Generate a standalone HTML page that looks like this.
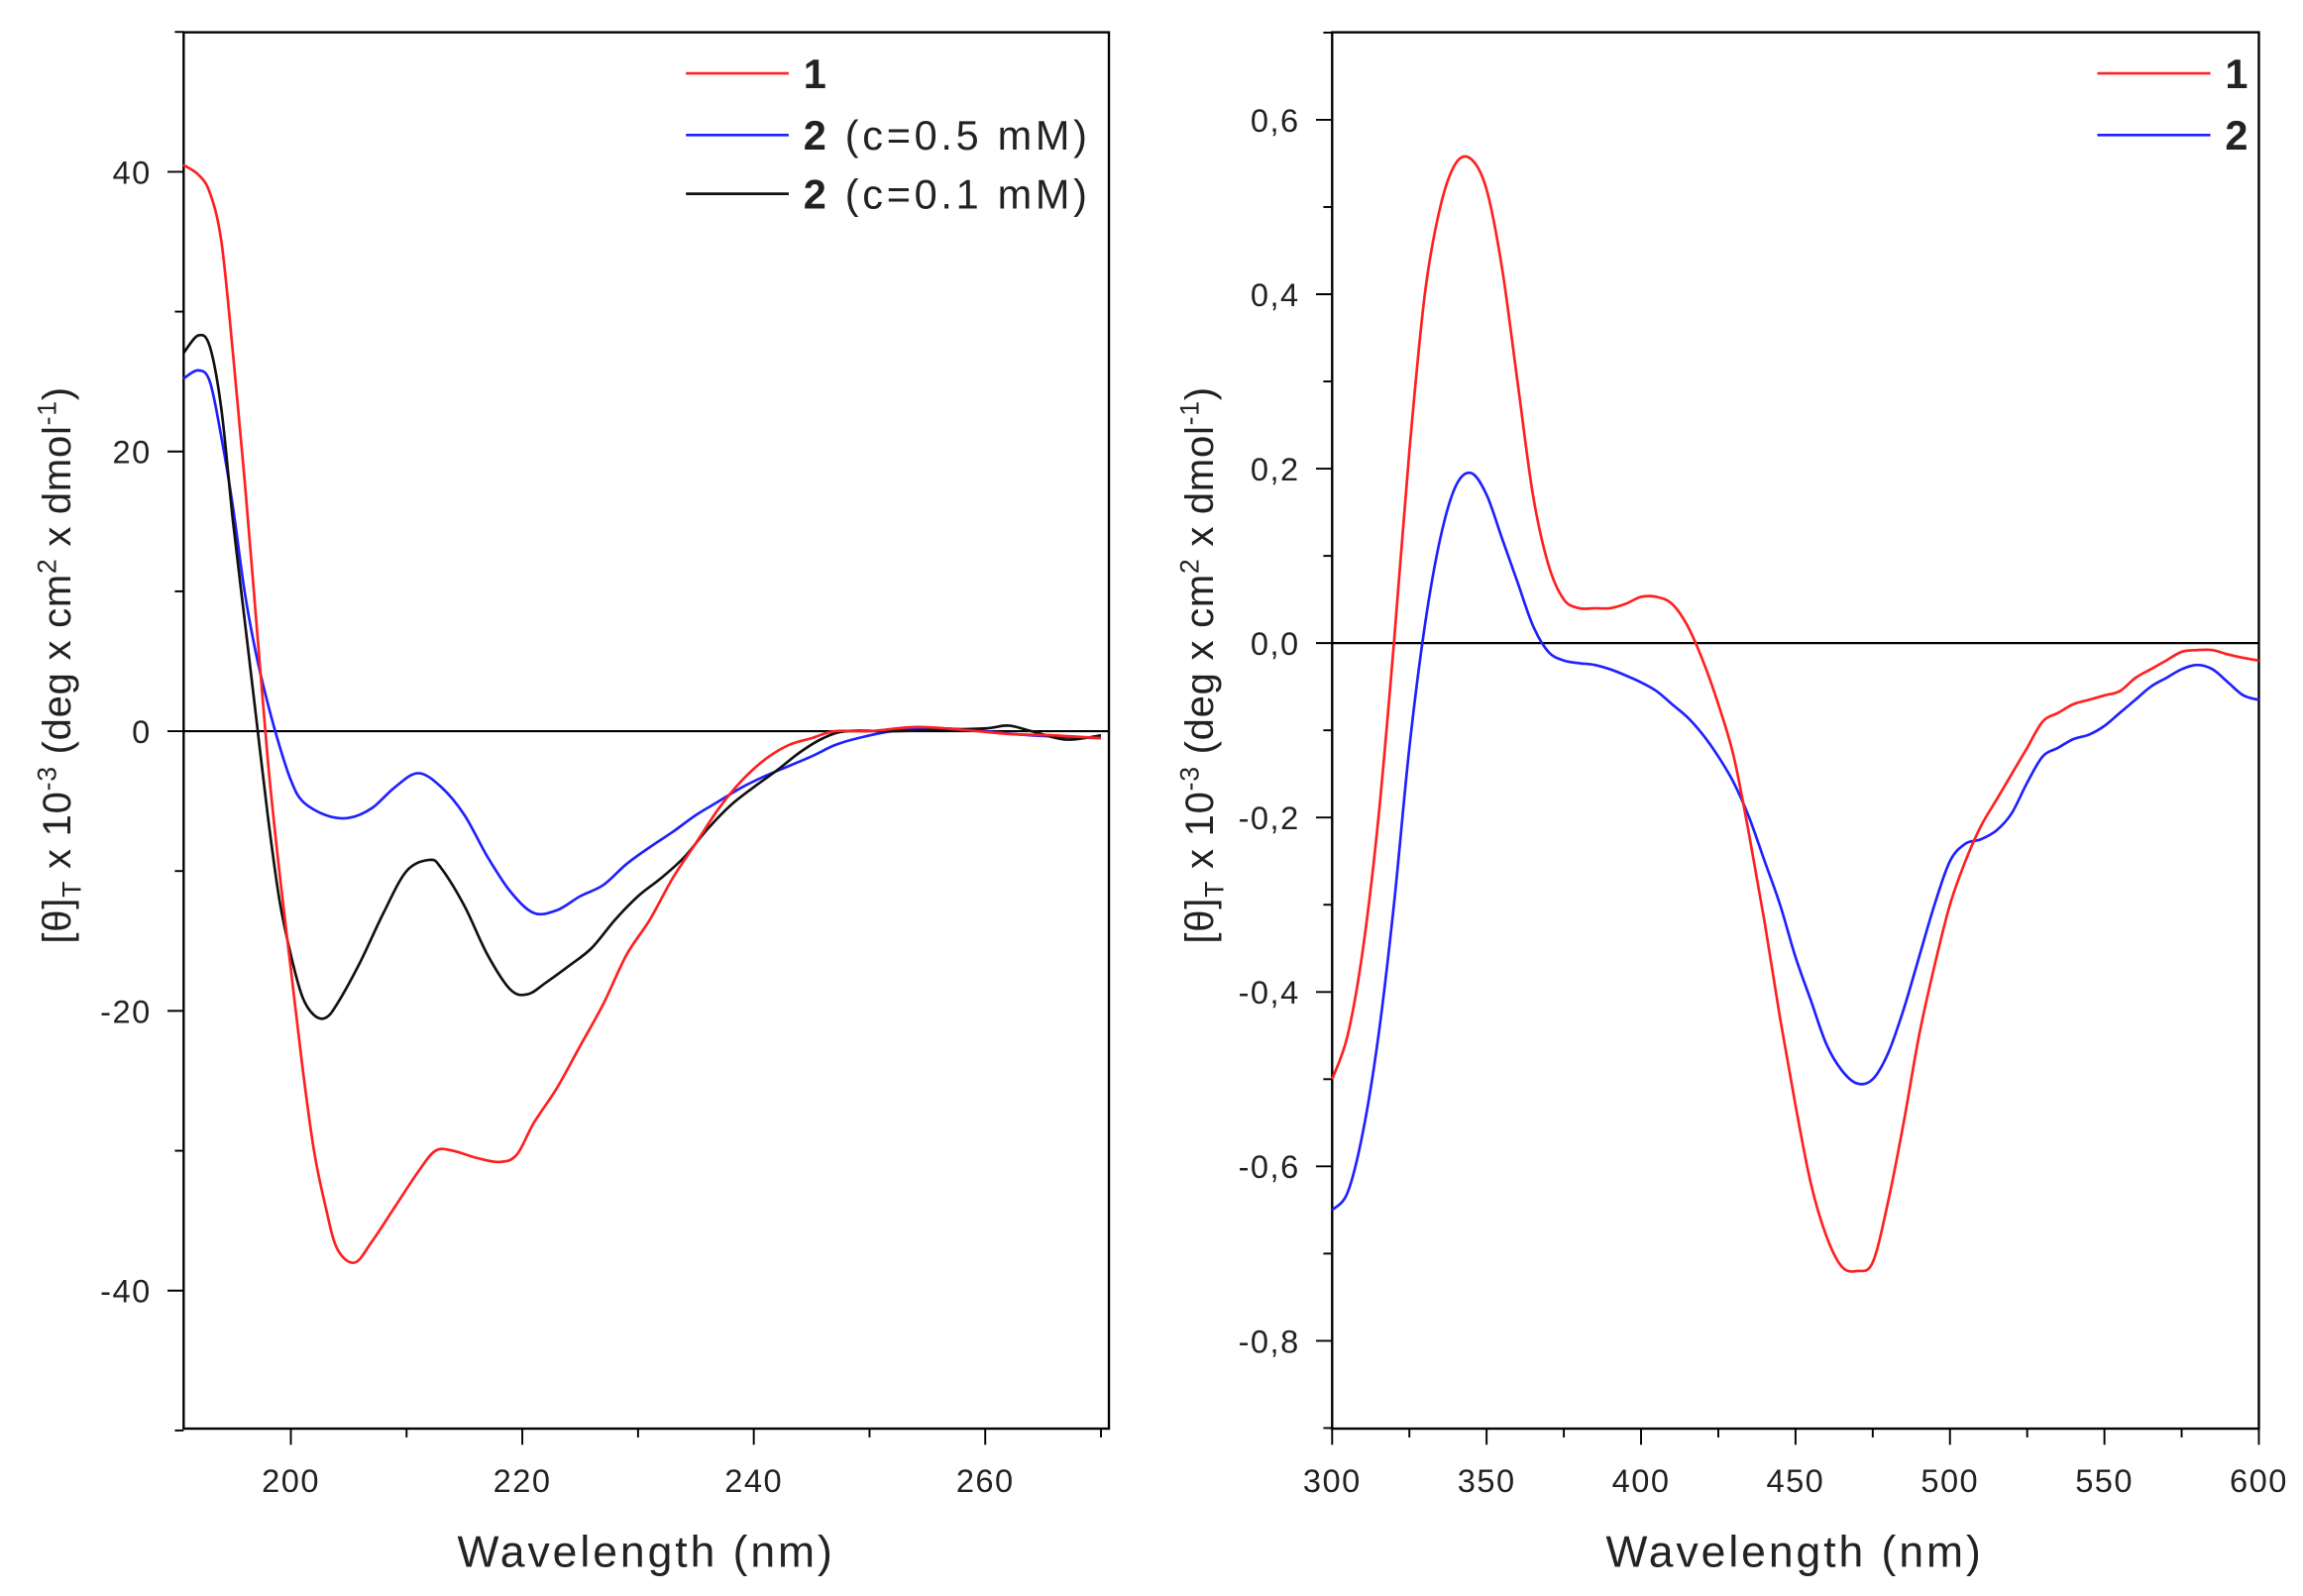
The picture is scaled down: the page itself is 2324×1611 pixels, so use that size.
<!DOCTYPE html>
<html><head><meta charset="utf-8"><style>
html,body{margin:0;padding:0;background:#fff}
svg{display:block}
text{font-family:"Liberation Sans",sans-serif;fill:#222}
</style></head><body>
<svg id="s" width="2324" height="1611" viewBox="0 0 1568 1087" xmlns="http://www.w3.org/2000/svg"></svg>
<script>
// Left panel data
const leftRedX=[190.7,192,193,194,195,196,197,198,199,200,201,202,203,204,205.5,207,209,211,212.5,214,216,218,219.5,221,223,225,227,229,231,233,235,237,239,241,243,245,247,250,254,258,262,266,270];
const leftRedY=[40.5,39.8,38.5,35,27,18,8,-2,-10,-17,-24,-30,-34,-37,-38,-36.5,-34,-31.5,-30,-30,-30.5,-30.8,-30.3,-28,-25.5,-22.5,-19.5,-16,-13.5,-10.5,-8,-5.5,-3.5,-2,-1,-0.5,0,0,0.3,0.1,-0.2,-0.3,-0.5];
const leftBlueX=[190.7,192,193,194,195,196,197,198,199,200,201,203,205,207,209,211,213,215,217,219,221,223,225,227,229,231,233,235,237,239,241,243,245,247,249,252,256,260,264,270];
const leftBlueY=[25.2,25.8,25,21,16,10,5.5,2,-1,-3.5,-5,-6,-6.2,-5.5,-4,-3,-4,-6,-9,-11.5,-13,-12.8,-11.8,-11,-9.5,-8.3,-7.2,-6,-5,-4,-3.2,-2.5,-1.8,-1,-0.5,0,0.2,0,-0.3,-0.5];
const leftBlackX=[190.7,192,193,194,195,196,197,198,199,200,201,202,203,204,206,208,210,212,213,215,217,219,220.5,222,224,226,228,230,232,234,236,238,240,242,244,246,248,252,256,260,262,264,267,270];
const leftBlackY=[27,28.3,27.5,23,15,8,1,-6,-12,-16,-19,-20.3,-20.5,-19.5,-16.5,-13,-10,-9.2,-9.8,-12.5,-16,-18.5,-18.8,-18,-16.8,-15.5,-13.5,-11.8,-10.5,-9,-7,-5.3,-4,-2.8,-1.5,-0.5,0,0,0.1,0.2,0.4,0,-0.6,-0.3];
const leftXTicks=[200,220,240,260];
const leftYTicks=[40,20,0,-20,-40];
// Right panel data
const rightX=[300,305,310,315,320,325,330,335,340,345,350,355,360,365,370,375,380,385,390,395,400,405,410,415,420,425,430,435,440,445,450,455,460,465,470,475,480,485,490,495,500,505,510,515,520,525,530,535,540,545,550,555,560,565,570,575,580,585,590,595,600];
const rightRedY=[-0.5,-0.45,-0.35,-0.2,0,0.22,0.4,0.5,0.55,0.555,0.52,0.43,0.3,0.17,0.09,0.05,0.04,0.04,0.04,0.045,0.053,0.053,0.045,0.02,-0.02,-0.07,-0.13,-0.22,-0.32,-0.43,-0.53,-0.62,-0.68,-0.715,-0.72,-0.71,-0.64,-0.55,-0.45,-0.37,-0.3,-0.25,-0.21,-0.18,-0.15,-0.12,-0.09,-0.08,-0.07,-0.065,-0.06,-0.055,-0.04,-0.03,-0.02,-0.01,-0.008,-0.008,-0.013,-0.017,-0.02];
const rightBlueY=[-0.65,-0.63,-0.56,-0.45,-0.3,-0.12,0.02,0.12,0.18,0.195,0.17,0.12,0.07,0.02,-0.01,-0.02,-0.023,-0.025,-0.03,-0.037,-0.045,-0.055,-0.07,-0.085,-0.105,-0.13,-0.16,-0.2,-0.25,-0.3,-0.36,-0.41,-0.46,-0.49,-0.505,-0.5,-0.47,-0.42,-0.36,-0.3,-0.25,-0.23,-0.225,-0.215,-0.195,-0.16,-0.13,-0.12,-0.11,-0.105,-0.095,-0.08,-0.065,-0.05,-0.04,-0.03,-0.025,-0.03,-0.045,-0.06,-0.065];
const rightXTicks=[300,350,400,450,500,550,600];
const rightYTicks=[0.6,0.4,0.2,0,-0.2,-0.4,-0.6,-0.8];

const NS="http://www.w3.org/2000/svg", S=document.getElementById('s');
function mk(tag,attrs,parent,txt){const e=document.createElementNS(NS,tag);for(const k in attrs)e.setAttribute(k,attrs[k]);if(txt!=null)e.textContent=txt;(parent||S).appendChild(e);return e;}
function smooth(pts){let d='M'+pts[0][0].toFixed(2)+','+pts[0][1].toFixed(2);
 for(let i=0;i<pts.length-1;i++){const p0=pts[Math.max(0,i-1)],p1=pts[i],p2=pts[i+1],p3=pts[Math.min(pts.length-1,i+2)];
 const c1=[p1[0]+(p2[0]-p0[0])/6,p1[1]+(p2[1]-p0[1])/6],c2=[p2[0]-(p3[0]-p1[0])/6,p2[1]-(p3[1]-p1[1])/6];
 d+='C'+c1.map(v=>v.toFixed(2))+' '+c2.map(v=>v.toFixed(2))+' '+p2[0].toFixed(2)+','+p2[1].toFixed(2);}return d;}

const lx=v=>198+(v-200)*7.88, ly=v=>498-v*9.525;
const rx=v=>907+(v-300)*(631/300), ry=v=>438-v*594;
function panel(name,L,R,T,B,xf,yf,xt,xminor,yt,yminor,fmt){
 const g=mk('g',{}, S);
 
 
 const f=mk('rect',{x:L,y:T,width:R-L,height:B-T,fill:'none',stroke:'#000','stroke-width':1.6},g);
 
 
 for(const v of xminor){const x=xf(v);if(x<L-1||x>R+1)continue;mk('line',{x1:x,x2:x,y1:B,y2:B+6,stroke:'#000','stroke-width':1.3},g);}
 for(const v of xt){const x=xf(v);mk('line',{x1:x,x2:x,y1:B,y2:B+11,stroke:'#000','stroke-width':1.3},g);
  const t=mk('text',{x:x,y:B+43,'text-anchor':'middle','font-size':22,'letter-spacing':1,fill:'#333'},g,fmt.x(v));
  
  }
 for(const v of yminor){const y=yf(v);mk('line',{x1:L-6,x2:L,y1:y,y2:y,stroke:'#000','stroke-width':1.3},g);}
 for(const v of yt){const y=yf(v);mk('line',{x1:L-11,x2:L,y1:y,y2:y,stroke:'#000','stroke-width':1.3},g);
  const t=mk('text',{x:L-22,y:y+8,'text-anchor':'end','font-size':22,'letter-spacing':1,fill:'#333'},g,fmt.y(v));
  
  }
 const z=mk('line',{x1:L,x2:R,y1:yf(0),y2:yf(0),stroke:'#000','stroke-width':1.5},g);
 
 
 return g;}
const lg=panel('left-panel',125,755,22,973,lx,ly,leftXTicks,[210,230,250,270,190],leftYTicks,[50,30,10,-10,-30,-50],{x:v=>String(v),y:v=>String(v)});
const rg=panel('right-panel',907,1538,22,973,rx,ry,rightXTicks,[325,375,425,475,525,575],rightYTicks,[0.7,0.5,0.3,0.1,-0.1,-0.3,-0.5,-0.7,-0.9],{x:v=>String(v),y:v=>v.toFixed(1).replace('.',',')});

function series(g,xs,ys,xf,yf,color,name){const p=mk('path',{d:smooth(xs.map((x,i)=>[xf(x),yf(ys[i])])),fill:'none',stroke:color,'stroke-width':1.8,'stroke-linejoin':'round'},g);
 
 }
series(lg,leftBlueX,leftBlueY,lx,ly,'#2020ff','series-2-0.5mM');
series(lg,leftBlackX,leftBlackY,lx,ly,'#111','series-2-0.1mM');
series(lg,leftRedX,leftRedY,lx,ly,'#ff2020','series-1-left');
series(rg,rightX,rightBlueY,rx,ry,'#2020ff','series-2-right');
series(rg,rightX,rightRedY,rx,ry,'#ff2020','series-1-right');

function legendEntry(g,x1,x2,y,color,label,rest){const e=mk('g',{},g);
 
 
 mk('line',{x1:x1,x2:x2,y1:y,y2:y,stroke:color,'stroke-width':1.8},e);
 const t=mk('text',{x:x2+10,y:y+10,'font-size':28,'letter-spacing':2.5},e);
 mk('tspan',{'font-weight':'bold'},t,label);
 if(rest)mk('tspan',{},t,rest);}
legendEntry(lg,467,537,50,'#ff2020','1','');
legendEntry(lg,467,537,92,'#2020ff','2',' (c=0.5 mM)');
legendEntry(lg,467,537,132,'#111','2',' (c=0.1 mM)');
legendEntry(rg,1428,1505,50,'#ff2020','1','');
legendEntry(rg,1428,1505,92,'#2020ff','2','');

function titles(g,cx,ty,tx){const a=mk('text',{x:cx,y:1067,'text-anchor':'middle','font-size':30,'letter-spacing':2},g,'Wavelength (nm)');
 
 
 const y=mk('text',{transform:`translate(${tx},${ty}) rotate(-90)`,'text-anchor':'middle','font-size':27,'letter-spacing':0.5},g);
 
 
 mk('tspan',{},y,'[θ]');mk('tspan',{'font-size':18,dy:7},y,'T');mk('tspan',{dy:-7},y,' x 10');
 mk('tspan',{'font-size':18,dy:-10},y,'-3');mk('tspan',{dy:10},y,' (deg x cm');mk('tspan',{'font-size':18,dy:-10},y,'2');
 mk('tspan',{dy:10},y,' x dmol');mk('tspan',{'font-size':18,dy:-10},y,'-1');mk('tspan',{dy:10},y,')');}
titles(lg,440,453,48);
titles(rg,1222,453,826);
</script>
</body></html>
